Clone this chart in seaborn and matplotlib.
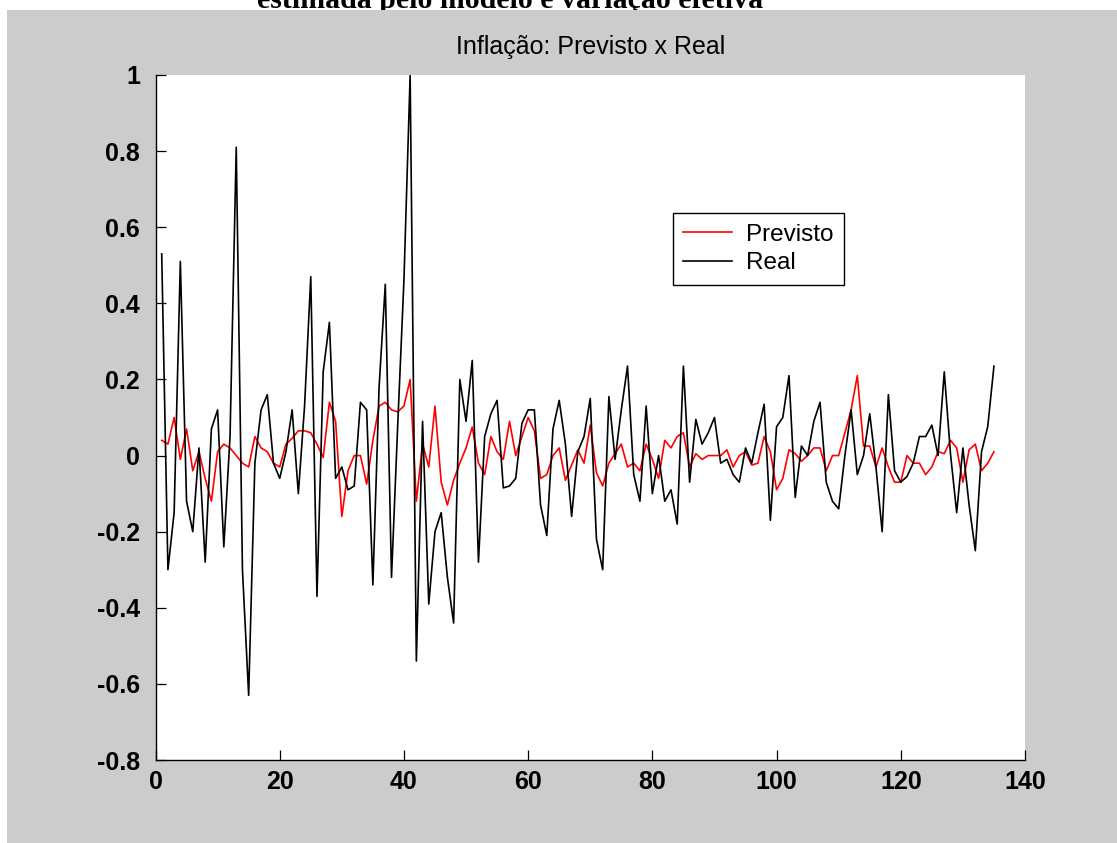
import matplotlib
matplotlib.use("Agg")
import matplotlib.pyplot as plt
from matplotlib.patches import Rectangle
import numpy as np
import pandas as pd
import seaborn as sns

# ---------------- data ----------------
real = [
    0.53, -0.30, -0.15, 0.51, -0.12, -0.20, 0.02, -0.28, 0.07, 0.12,
    -0.24, 0.05, 0.81, -0.30, -0.63, -0.02, 0.12, 0.16, -0.02, -0.06,
    0.01, 0.12, -0.10, 0.13, 0.47, -0.37, 0.22, 0.35, -0.06, -0.03,
    -0.09, -0.08, 0.14, 0.12, -0.34, 0.18, 0.45, -0.32, 0.08, 0.46,
    1.00, -0.54, 0.09, -0.39, -0.20, -0.15, -0.32, -0.44, 0.20, 0.09,
    0.25, -0.28, 0.05, 0.11, 0.145, -0.085, -0.08, -0.06, 0.085, 0.12,
    0.12, -0.13, -0.21, 0.07, 0.145, 0.03, -0.16, 0.01, 0.05, 0.15,
    -0.22, -0.30, 0.155, -0.01, 0.12, 0.235, -0.05, -0.12, 0.13, -0.10,
    0.00, -0.12, -0.09, -0.18, 0.235, -0.07, 0.095, 0.03, 0.06, 0.10,
    -0.02, -0.01, -0.05, -0.07, 0.02, -0.02, 0.06, 0.135, -0.17, 0.076,
    0.10, 0.21, -0.11, 0.025, 0.00, 0.09, 0.14, -0.07, -0.12, -0.14,
    0.00, 0.12, -0.05, 0.00, 0.11, -0.03, -0.20, 0.16, -0.04, -0.07,
    -0.055, -0.02, 0.05, 0.05, 0.08, 0.00, 0.22, 0.005, -0.15, 0.02,
    -0.13, -0.25, 0.01, 0.076, 0.235,
]
previsto = [
    0.04, 0.03, 0.10, -0.01, 0.07, -0.04, 0.01, -0.06, -0.12, 0.01,
    0.03, 0.02, 0.00, -0.02, -0.03, 0.05, 0.02, 0.01, -0.02, -0.03,
    0.03, 0.045, 0.065, 0.065, 0.06, 0.03, -0.005, 0.14, 0.09, -0.16,
    -0.04, 0.00, 0.00, -0.075, 0.04, 0.13, 0.14, 0.12, 0.115, 0.13,
    0.20, -0.12, 0.03, -0.03, 0.13, -0.07, -0.13, -0.065, -0.02, 0.02,
    0.075, -0.02, -0.05, 0.05, 0.01, -0.01, 0.09, 0.00, 0.05, 0.10,
    0.065, -0.06, -0.05, 0.00, 0.02, -0.065, -0.025, 0.015, -0.02, 0.08,
    -0.045, -0.08, -0.02, 0.005, 0.03, -0.03, -0.02, -0.04, 0.03, -0.01,
    -0.06, 0.04, 0.02, 0.05, 0.06, -0.03, 0.005, -0.01, 0.00, 0.00,
    0.00, 0.015, -0.03, 0.00, 0.01, -0.025, -0.02, 0.05, 0.01, -0.09,
    -0.06, 0.015, 0.005, -0.015, 0.00, 0.02, 0.02, -0.04, 0.00, 0.00,
    0.06, 0.12, 0.21, 0.025, 0.025, -0.03, 0.02, -0.03, -0.07, -0.07,
    0.00, -0.02, -0.02, -0.05, -0.03, 0.01, 0.005, 0.04, 0.02, -0.07,
    0.015, 0.03, -0.04, -0.02, 0.01,
]
periods = list(range(1, len(real) + 1))

xticks = [0, 20, 40, 60, 80, 100, 120, 140]
xticklabels = ["0", "20", "40", "60", "80", "100", "120", "140"]
yticks = [-0.8, -0.6, -0.4, -0.2, 0, 0.2, 0.4, 0.6, 0.8, 1]
yticklabels = ["-0.8", "-0.6", "-0.4", "-0.2", "0", "0.2", "0.4", "0.6", "0.8", "1"]

title = "Inflação: Previsto x Real"
caption = "estimada pelo modelo e variação efetiva"
series_names = ["Previsto", "Real"]

df = pd.DataFrame({"t": periods, "Previsto": previsto, "Real": real})

# ---------------- figure ----------------
W, H = 1117, 843
fig = plt.figure(figsize=(W / 100, H / 100), dpi=100, facecolor="white")

SANS = ["Liberation Sans", "DejaVu Sans"]

# cut-off caption from the document above the figure
fig.text(510 / W, 1 - 8 / H, caption, ha="center", va="baseline",
         fontsize=21.5, fontweight="bold", family=["Liberation Serif", "DejaVu Serif"],
         zorder=-2)
# grey MATLAB figure background
fig.patches.append(Rectangle((7 / W, 0), 1, (H - 10) / H, transform=fig.transFigure,
                             facecolor="#cccccc", edgecolor="none", zorder=-1))

ax = fig.add_axes([155.5 / W, 83 / H, 869.5 / W, 685 / H])
ax.set_facecolor("white")

sns.lineplot(data=df, x="t", y="Previsto", color="#ff0000", linewidth=1.2,
             label=series_names[0], ax=ax)
sns.lineplot(data=df, x="t", y="Real", color="black", linewidth=1.2,
             label=series_names[1], ax=ax)

ax.set_xlim(0, 140)
ax.set_ylim(-0.8, 1)
ax.set_xlabel("")
ax.set_ylabel("")

ax.set_xticks(xticks)
ax.set_xticklabels(xticklabels, fontweight="bold", fontsize=18, family=SANS)
ax.set_yticks(yticks)
ax.set_yticklabels(yticklabels, fontweight="bold", fontsize=18, family=SANS)
ax.tick_params(direction="in", length=7, width=0.9, colors="black")
ax.tick_params(axis="x", pad=7.5)
ax.tick_params(axis="y", pad=11)

for s in ["top", "right"]:
    ax.spines[s].set_visible(False)
for s in ["left", "bottom"]:
    ax.spines[s].set_linewidth(1.0)
    ax.spines[s].set_color("black")

ax.set_title(title, fontsize=18, family=SANS, pad=15, color="black")

leg = ax.legend(loc="upper left", bbox_to_anchor=(0.595, 0.798), borderaxespad=0,
                frameon=True, fancybox=False, framealpha=1, edgecolor="black",
                prop={"family": SANS, "size": 17.5}, handlelength=2.0,
                handletextpad=0.6, labelspacing=0.28, borderpad=0.42)
leg.get_frame().set_linewidth(1.0)

fig.savefig("out.png", dpi=100, facecolor="white")
